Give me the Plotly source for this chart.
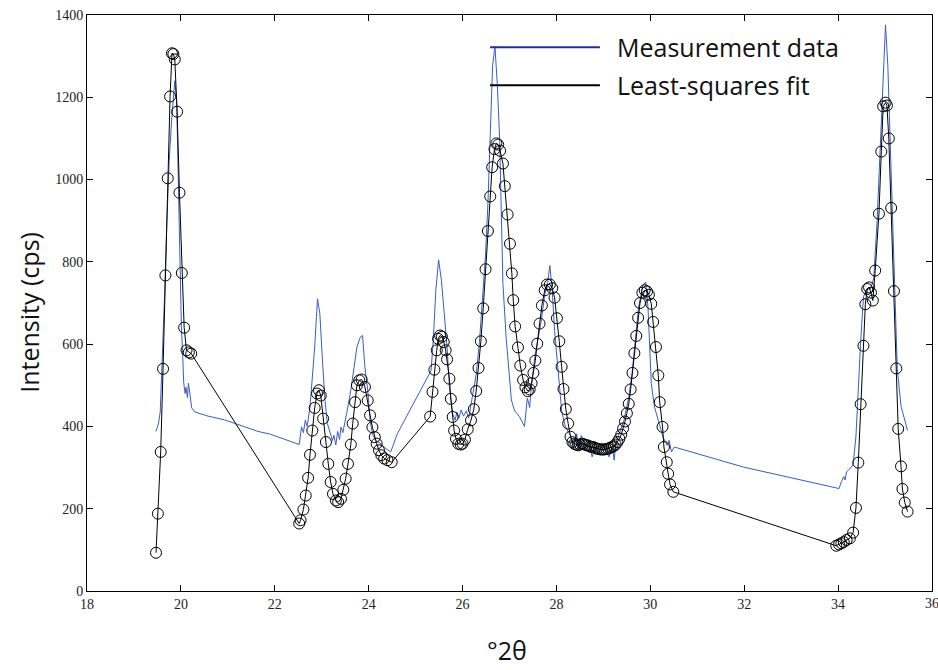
import plotly.graph_objects as go

# Measurement data (blue)
meas_x = [19.47, 19.52, 19.56, 19.59, 19.65, 19.70, 19.75, 19.80, 19.84, 19.87, 19.91, 19.94, 19.98,
          20.01, 20.04, 20.06, 20.09, 20.11, 20.14, 20.16, 20.19, 20.23, 20.30, 20.58, 20.93, 21.29,
          21.64, 21.91, 22.52,
          22.57, 22.61, 22.65, 22.69, 22.75, 22.80, 22.85, 22.91, 22.96, 23.02, 23.07, 23.12, 23.18,
          23.23, 23.26, 23.30, 23.34, 23.38, 23.41, 23.45, 23.53, 23.62, 23.69, 23.75, 23.82, 23.87,
          23.92, 23.98, 24.03, 24.08, 24.15, 24.26, 24.37, 24.47, 24.61, 25.25, 25.33, 25.38, 25.43,
          25.49, 25.55, 25.61, 25.67, 25.72, 25.79, 25.84, 25.88, 25.92, 25.97, 26.02, 26.08, 26.13,
          26.21, 26.29, 26.36, 26.43, 26.49, 26.54, 26.59, 26.64, 26.69, 26.74, 26.79, 26.82, 26.86,
          26.93, 26.98, 27.04, 27.11, 27.21, 27.32, 27.38, 27.43, 27.46, 27.54, 27.61, 27.68, 27.75,
          27.81, 27.86, 27.91, 27.96, 28.04, 28.11, 28.19, 28.25, 28.32, 28.36, 28.43, 28.47, 28.53,
          28.62, 28.69, 28.76, 28.83, 28.90, 28.98, 29.05, 29.12, 29.19, 29.23, 29.26, 29.34, 29.44,
          29.54, 29.61, 29.68, 29.75, 29.84, 29.90, 29.95, 29.99, 30.02, 30.09, 30.19, 30.27, 30.36,
          30.40, 30.45, 30.51, 31.99, 34.02, 34.07, 34.12, 34.15, 34.18, 34.25, 34.32, 34.38, 34.43,
          34.48, 34.54, 34.61, 34.69, 34.76, 34.83, 34.90, 34.96, 35.01, 35.06, 35.12, 35.19, 35.26,
          35.34, 35.41, 35.48]
meas_y = [388, 406, 435, 521, 711, 892, 1044, 1140, 1206, 1240, 1190, 1025, 835,
          644, 568, 506, 480, 495, 470, 505, 480, 445, 435, 425, 416, 402,
          388, 381, 356,
          399, 385, 415, 400, 447, 512, 593, 710, 674, 552, 463, 407, 382,
          366, 378, 355, 388, 368, 398, 385, 431, 488, 544, 593, 617, 621,
          544, 488, 415, 382, 366, 358, 346, 338, 382, 516, 536, 617, 730,
          805, 755, 674, 593, 496, 431, 415, 435, 420, 440, 425, 438, 420,
          473, 526, 606, 720, 818, 941, 1100, 1277, 1323, 1233, 1100, 924, 747,
          614, 544, 464, 438, 424, 400, 469, 446, 491, 570, 614, 659, 720,
          747, 791, 731, 633, 528, 439, 399, 386, 374, 350, 382, 345, 378,
          350, 366, 326, 350, 334, 358, 342, 326, 350, 318, 358, 382, 415,
          471, 528, 609, 690, 743, 751, 690, 585, 504, 447, 407, 374, 354,
          366, 338, 350, 301, 249, 266, 278, 270, 290, 297, 307, 376, 495,
          605, 715, 734, 734, 761, 899, 1091, 1247, 1376, 1275, 1045, 770, 541,
          449, 422, 390]

# Least-squares fit (black, with circle markers)
fit_x = [19.47, 19.51, 19.57, 19.62, 19.67, 19.72, 19.77, 19.81, 19.84, 19.87, 19.92, 19.97, 20.02,
         20.07, 20.12, 20.17, 20.22,
         22.52, 22.55, 22.61, 22.66, 22.71, 22.75, 22.80, 22.85, 22.90, 22.94, 22.98, 23.03, 23.09,
         23.14, 23.19, 23.24, 23.30, 23.35, 23.41, 23.46, 23.51, 23.56, 23.62, 23.66, 23.71, 23.75,
         23.80, 23.85, 23.92, 23.98, 24.03, 24.08, 24.13, 24.17, 24.22, 24.27, 24.33, 24.40, 24.49,
         25.31, 25.36, 25.40, 25.45, 25.48, 25.52, 25.56, 25.60, 25.64, 25.67, 25.72, 25.75, 25.79,
         25.82, 25.86, 25.91, 25.96, 26.00, 26.05, 26.11, 26.18, 26.24, 26.29, 26.34, 26.39, 26.44,
         26.49, 26.54, 26.59, 26.63, 26.68, 26.72, 26.76, 26.80, 26.86, 26.90, 26.96, 27.01, 27.05,
         27.08, 27.12, 27.18, 27.23, 27.29, 27.34, 27.39, 27.43, 27.47, 27.51, 27.55, 27.59, 27.64,
         27.69, 27.75, 27.80, 27.86, 27.91, 27.96, 28.01, 28.06, 28.11, 28.15, 28.20, 28.25, 28.30,
         28.34, 28.38, 28.42, 28.46, 28.50, 28.54, 28.58, 28.62, 28.66, 28.70, 28.74, 28.78, 28.82,
         28.86, 28.90, 28.94, 28.98, 29.02, 29.06, 29.10, 29.14, 29.18, 29.22, 29.26, 29.30, 29.34,
         29.38, 29.42, 29.46, 29.50, 29.54, 29.58, 29.62, 29.66, 29.70, 29.74, 29.78, 29.83, 29.88,
         29.93, 29.97, 30.02, 30.06, 30.12, 30.17, 30.20, 30.26, 30.29, 30.35, 30.38, 30.42, 30.49,
         33.96, 34.02, 34.07, 34.12, 34.18, 34.25, 34.32, 34.38, 34.43, 34.48, 34.54, 34.58, 34.62,
         34.66, 34.70, 34.74, 34.79, 34.87, 34.92, 34.96, 35.01, 35.04, 35.08, 35.13, 35.19, 35.24,
         35.28, 35.34, 35.37, 35.42, 35.48]
fit_y = [93, 188, 338, 540, 767, 1003, 1202, 1307, 1305, 1292, 1165, 968, 773,
         640, 585, 580, 577,
         164, 172, 198, 232, 275, 331, 390, 445, 480, 488, 475, 419, 362,
         309, 265, 236, 220, 216, 224, 246, 273, 309, 356, 407, 459, 500,
         512, 514, 496, 463, 427, 398, 374, 358, 342, 330, 322, 318, 313,
         424, 484, 538, 585, 613, 621, 618, 605, 585, 563, 516, 467, 423,
         390, 370, 358, 356, 358, 368, 393, 415, 442, 486, 542, 607, 687,
         782, 875, 959, 1030, 1074, 1088, 1085, 1070, 1039, 984, 915, 844, 772,
         707, 643, 592, 548, 513, 495, 486, 490, 505, 530, 560, 601, 650,
         694, 731, 745, 745, 736, 713, 663, 607, 545, 491, 442, 407, 375,
         362, 358, 356, 354, 356, 358, 357, 355, 354, 352, 350, 350, 348,
         346, 345, 344, 344, 344, 345, 346, 348, 350, 352, 356, 362, 370,
         380, 395, 412, 432, 455, 490, 530, 578, 620, 664, 700, 725, 731,
         728, 720, 698, 654, 593, 524, 459, 399, 350, 313, 285, 259, 241,
         110, 113, 116, 119, 124, 128, 142, 202, 312, 454, 596, 697, 734,
         738, 725, 706, 779, 917, 1068, 1178, 1187, 1180, 1100, 931, 729, 541,
         394, 303, 248, 215, 193]

x_ticks = [18, 20, 22, 24, 26, 28, 30, 32, 34, 36]
y_ticks = [0, 200, 400, 600, 800, 1000, 1200, 1400]

BLUE = "#3a5cc4"
TICKFONT = dict(family="Liberation Sans Narrow", size=14, color="#222")
TITLEFONT = dict(family="Open Sans", size=25, color="#111")

fig = go.Figure()
fig.add_trace(go.Scatter(x=meas_x, y=meas_y, mode="lines", name="Measurement data",
                         line=dict(color=BLUE, width=1), showlegend=False))
fig.add_trace(go.Scatter(x=fit_x, y=fit_y, mode="lines+markers", name="Least-squares fit",
                         line=dict(color="black", width=1),
                         marker=dict(symbol="circle-open", size=11, color="black",
                                     line=dict(width=1, color="black")),
                         showlegend=False))

# Custom legend (long line samples as in the original)
legend_items = [("Measurement data", "#1c2f96", 0.944), ("Least-squares fit", "black", 0.878)]
for label, col, yp in legend_items:
    fig.add_shape(type="line", xref="paper", yref="paper", x0=0.477, x1=0.607, y0=yp, y1=yp,
                  line=dict(color=col, width=2))
    fig.add_annotation(text=label, xref="paper", yref="paper", x=0.625, y=yp,
                       xanchor="left", yanchor="middle", showarrow=False, font=TITLEFONT)

# last x tick label sits on the right frame edge; draw it so it is not dropped
fig.add_annotation(text=str(x_ticks[-1]), x=x_ticks[-1], xref="x", y=0, yref="paper",
                   yanchor="top", yshift=-3, showarrow=False, font=TICKFONT)

# axis titles
fig.add_annotation(text="Intensity (cps)", xref="paper", yref="paper", x=-0.068, y=0.484,
                   xanchor="center", yanchor="middle", textangle=-90, showarrow=False,
                   font=TITLEFONT)
fig.add_annotation(text="°2θ", xref="paper", yref="paper", x=0.497, y=-0.103,
                   xanchor="center", yanchor="middle", showarrow=False, font=TITLEFONT)

axis_common = dict(showline=True, linecolor="black", linewidth=1, mirror="ticks",
                   ticks="inside", ticklen=6, tickcolor="black", showgrid=False, zeroline=False,
                   tickfont=TICKFONT)

fig.update_layout(
    width=938, height=670,
    margin=dict(l=87, r=6, t=15, b=79),
    paper_bgcolor="white", plot_bgcolor="white",
    xaxis=dict(range=[18, 36], tickvals=x_ticks,
               ticktext=[str(v) for v in x_ticks[:-1]] + [""], **axis_common),
    yaxis=dict(range=[0, 1400], tickvals=y_ticks, ticktext=[str(v) for v in y_ticks],
               **axis_common),
)

fig.write_html("out.html")
